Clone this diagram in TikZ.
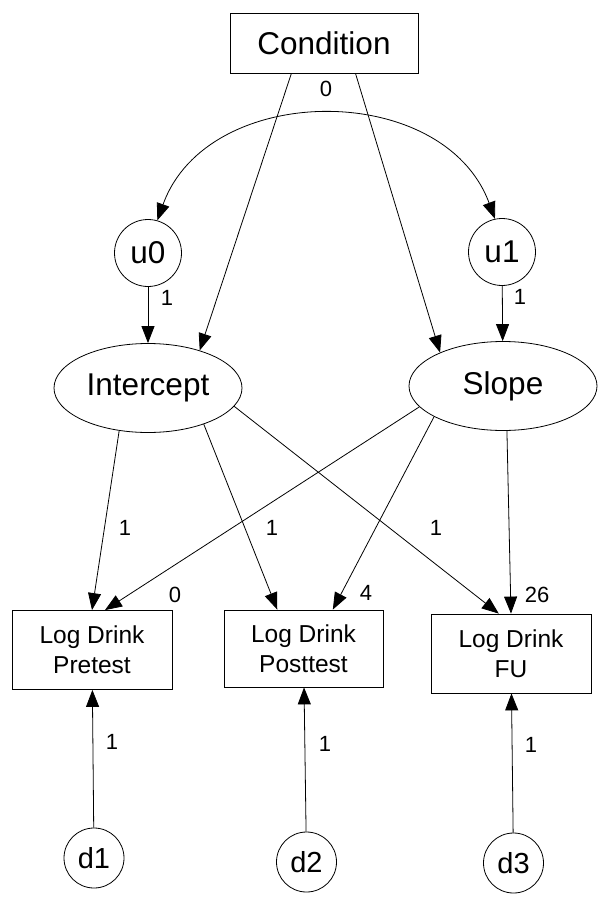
\documentclass[tikz,border=0pt]{standalone}
\usepackage{fontspec}
\setmainfont{Liberation Sans}
\usetikzlibrary{shapes,arrows.meta}
\tikzstyle{every picture}=[x=1pt, y=-1pt, line width=0.8pt,%
	>={Triangle[length=17pt,width=13pt]}, bend angle=70]
\tikzstyle{big}=[font=\fontsize{31.5}{36}\selectfont]
\tikzstyle{manifest}=[draw, rectangle, inner sep=0pt, minimum width=160, minimum height=79,%
	align=center, font=\fontsize{24.5}{30}\selectfont]
\tikzstyle{growth}=[draw, ellipse, inner sep=0pt, minimum width=188, minimum height=89, big]
\tikzstyle{resid}=[draw, circle, inner sep=0pt, minimum size=67, big]
\tikzstyle{err}=[draw, circle, inner sep=0pt, minimum size=60, font=\fontsize{29}{34}\selectfont]
\tikzstyle{lbl}=[inner sep=0pt, font=\fontsize{22}{26}\selectfont]

\begin{document}
\begin{tikzpicture}
	\useasboundingbox (0,0) rectangle (601,899);
	\node[draw, big, inner sep=0pt, minimum width=188, minimum height=60] (cond) at (324,43) {Condition};
	\node[resid] (u0) at (148,253) {u0};
	\node[resid] (u1) at (502,252) {u1};
	\node[growth] (icpt) at (148,388) {Intercept};
	\node[growth] (slope) at (503,386) {Slope};
	\node[manifest] (pre) at (92,650) {Log Drink\\Pretest};
	\node[manifest, minimum width=159, minimum height=77] (post) at (303.5,648.5) {Log Drink\\Posttest};
	\node[manifest] (fu) at (511,653.5) {Log Drink\\FU};
	\node[err] (d1) at (94,858) {d1};
	\node[err] (d2) at (306.5,862) {d2};
	\node[err] (d3) at (513.5,863) {d3};
	% covariance of the random effects
	\draw[<->] (u0.74) to[bend left, looseness=1.12] (u1.102);
	\node[lbl] (c0) at (326,89) {0};
	% paths into the growth factors
	\draw[->] (cond.223) -- (icpt.36);
	\draw[->] (cond.316) -- (slope.152);
	\draw[->] (u0) -- (icpt);
	\draw[->] (u1) -- (slope);
	\node[lbl] (l0) at (167,298) {1};
	\node[lbl] (l1) at (520,297) {1};
	% loadings
	\draw[->] (icpt.236) -- (pre.north);
	\draw[->] (icpt.327) -- (post.124);
	\draw[->] (icpt.348) -- (fu.107);
	\draw[->] (slope.194) -- (pre.72);
	\draw[->] (slope.204) -- (post.53);
	\draw[->] (slope.275) -- (fu.north);
	\node[lbl] (li1) at (125,528) {1};
	\node[lbl] (li2) at (272,528) {1};
	\node[lbl] (li3) at (436,528) {1};
	\node[lbl] (ls1) at (175,595) {0};
	\node[lbl] (ls2) at (366,593) {4};
	\node[lbl] (ls3) at (537,595) {26};
	% residuals
	\draw[->] (d1) -- (pre);
	\draw[->] (d2) -- (post);
	\draw[->] (d3) -- (fu);
	\node[lbl] (ld1) at (112,742) {1};
	\node[lbl] (ld2) at (325,744) {1};
	\node[lbl] (ld3) at (531,745) {1};
\end{tikzpicture}
\end{document}
